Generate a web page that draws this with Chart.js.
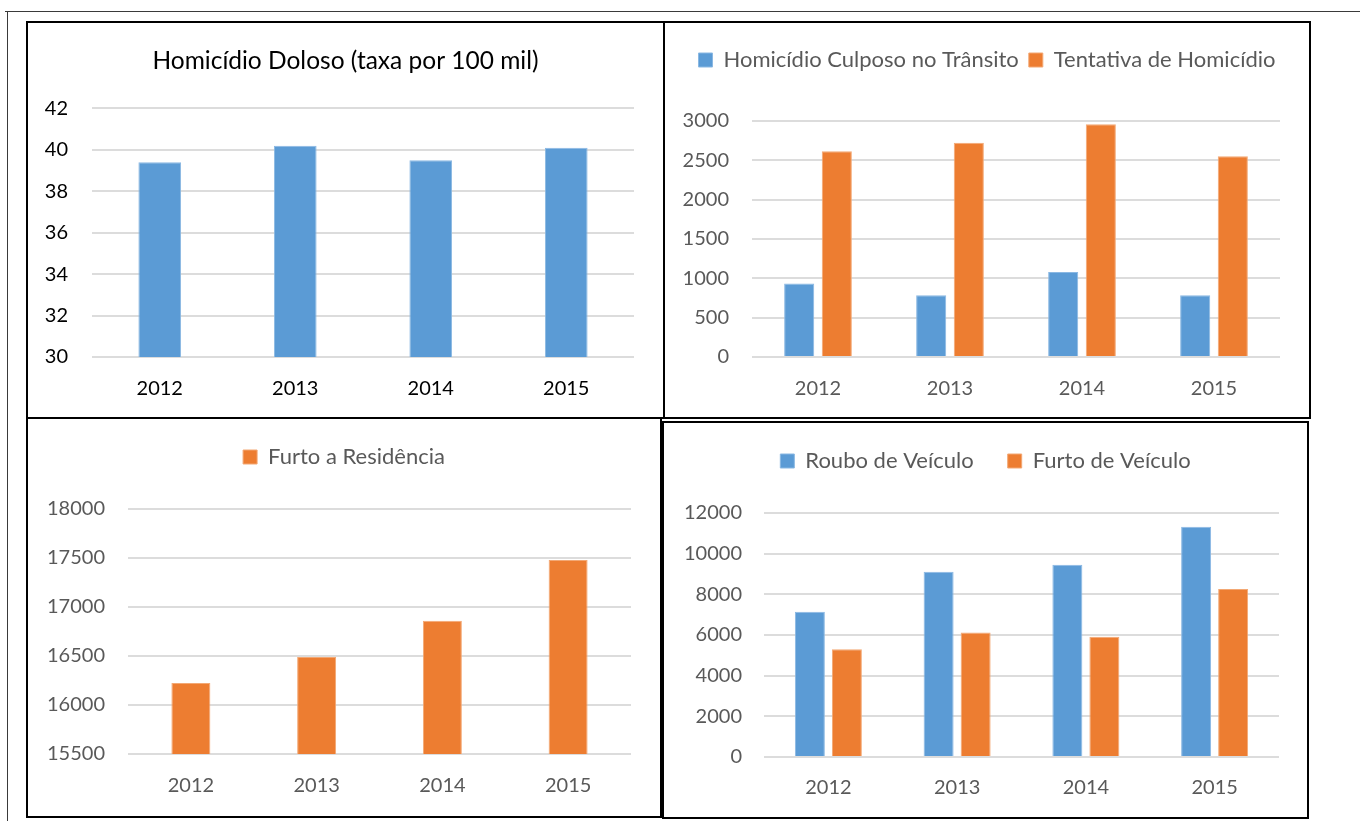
<!DOCTYPE html>
<html>
<head>
<meta charset="utf-8">
<script src="https://cdn.jsdelivr.net/npm/chart.js@4.4.0/dist/chart.umd.min.js"></script>
<style>
  html, body { margin: 0; padding: 0; background: #fff; }
  body { position: relative; width: 1360px; height: 821px; overflow: hidden; }
  .frameTop { position: absolute; left: 5px; top: 11px; width: 1355px; height: 1px; background: #3a3a3a; }
  .frameLeft { position: absolute; left: 7px; top: 11px; width: 1px; height: 810px; background: #3a3a3a; }
  .panel { position: absolute; border: 2px solid #000; box-sizing: border-box; background: #fff; }
  .panel canvas { position: absolute; left: 0; top: 0; }
</style>
</head>
<body>
<div class="frameTop"></div>
<div class="frameLeft"></div>
<div class="panel" style="left:26px;top:21px;width:639px;height:398px"><canvas id="c1" width="635" height="394"></canvas></div>
<div class="panel" style="left:663px;top:21px;width:648px;height:398px"><canvas id="c2" width="644" height="394"></canvas></div>
<div class="panel" style="left:26px;top:417px;width:636px;height:401px"><canvas id="c3" width="632" height="397"></canvas></div>
<div class="panel" style="left:662px;top:421px;width:647px;height:398px"><canvas id="c4" width="643" height="394"></canvas></div>

<script>
const years = ['2012', '2013', '2014', '2015'];

const homicidioDoloso = [39.4, 40.2, 39.5, 40.1];
const homicidioCulposoTransito = [933, 784, 1081, 785];
const tentativaHomicidio = [2614, 2725, 2958, 2551];
const furtoResidencia = [16225, 16491, 16859, 17479];
const rouboVeiculo = [7140, 9110, 9454, 11326];
const furtoVeiculo = [5303, 6125, 5909, 8258];

const ticksDoloso = [30, 32, 34, 36, 38, 40, 42];
const ticksTransito = [0, 500, 1000, 1500, 2000, 2500, 3000];
const ticksResidencia = [15500, 16000, 16500, 17000, 17500, 18000];
const ticksVeiculo = [0, 2000, 4000, 6000, 8000, 10000, 12000];

const BLUE = '#5b9bd5';
const BLUE_EDGE = '#8ab8e3';
const ORANGE = '#ed7d31';
const ORANGE_EDGE = '#f3a874';
const GREY_TEXT = '#595959';

Chart.defaults.font.family = 'Lato, "DejaVu Sans", sans-serif';
Chart.defaults.font.size = 20;

// adds space between the legend and the plot area
function legendGap(gap) {
    return {
        id: 'legendGap',
        beforeInit(chart) {
            if (!chart.legend || chart.legend._gapPatched) return;
            const origFit = chart.legend.fit;
            chart.legend.fit = function () {
                origFit.bind(chart.legend)();
                this.height += gap;
            };
            chart.legend._gapPatched = true;
        }
    };
}

// title / legend centred on the whole panel, not only the padded area
const fullWidthHeader = {
    id: 'fullWidthHeader',
    afterLayout(chart) {
        [chart.titleBlock, chart.legend].forEach(b => {
            if (b) { b.left = 0; b.right = chart.width; b.width = chart.width; }
        });
    }
};

function yScale(tickList, textColor, width, pad) {
    return {
        min: tickList[0],
        max: tickList[tickList.length - 1],
        ticks: { stepSize: tickList[1] - tickList[0], color: textColor, padding: pad, callback: v => String(v) },
        grid: { color: '#dcdcdc', lineWidth: 2, drawTicks: false },
        border: { display: false },
        afterFit: s => { s.width = width; }
    };
}

function xScale(textColor, height, pad) {
    return {
        grid: { display: false },
        border: { display: false },
        ticks: { color: textColor, padding: pad },
        afterFit: s => { s.height = height; }
    };
}

function legendOpts(pad) {
    return {
        display: true,
        position: 'top',
        labels: { boxWidth: 14, boxHeight: 14, color: GREY_TEXT, padding: pad, font: { size: 22 } }
    };
}

// Homicidio Doloso
new Chart(document.getElementById('c1'), {
    type: 'bar',
    data: {
        labels: years,
        datasets: [{ label: 'Homicídio Doloso', data: homicidioDoloso, backgroundColor: BLUE, borderColor: BLUE_EDGE, borderWidth: 1, barPercentage: 0.315, categoryPercentage: 1 }]
    },
    options: {
        responsive: false,
        animation: false,
        layout: { padding: { top: 0, right: 29, bottom: 0, left: 0 } },
        plugins: {
            legend: { display: false },
            tooltip: { enabled: false },
            title: {
                display: true,
                text: 'Homicídio Doloso (taxa por 100 mil)',
                color: '#000',
                font: { size: 24.5, weight: 'normal' },
                padding: { top: 23, bottom: 33 }
            }
        },
        scales: {
            x: xScale('#000', 60, 12),
            y: yScale(ticksDoloso, '#000', 64, 24)
        }
    },
    plugins: [fullWidthHeader]
});

// Homicidio culposo / tentativa
new Chart(document.getElementById('c2'), {
    type: 'bar',
    data: {
        labels: years,
        datasets: [
            { label: 'Homicídio Culposo no Trânsito', data: homicidioCulposoTransito, backgroundColor: BLUE, borderColor: BLUE_EDGE, borderWidth: 1, barPercentage: 0.8, categoryPercentage: 0.57 },
            { label: 'Tentativa de Homicídio', data: tentativaHomicidio, backgroundColor: ORANGE, borderColor: ORANGE_EDGE, borderWidth: 1, barPercentage: 0.8, categoryPercentage: 0.57 }
        ]
    },
    options: {
        responsive: false,
        animation: false,
        layout: { padding: { top: 16, right: 29, bottom: 0, left: 0 } },
        plugins: { legend: legendOpts(10), tooltip: { enabled: false } },
        scales: {
            x: xScale(GREY_TEXT, 60, 12),
            y: yScale(ticksTransito, GREY_TEXT, 87, 23)
        }
    },
    plugins: [legendGap(40), fullWidthHeader]
});

// Furto a residencia
new Chart(document.getElementById('c3'), {
    type: 'bar',
    data: {
        labels: years,
        datasets: [{ label: 'Furto a Residência', data: furtoResidencia, backgroundColor: ORANGE, borderColor: ORANGE_EDGE, borderWidth: 1, barPercentage: 0.31, categoryPercentage: 1 }]
    },
    options: {
        responsive: false,
        animation: false,
        layout: { padding: { top: 17, right: 29, bottom: 0, left: 0 } },
        plugins: { legend: legendOpts(10), tooltip: { enabled: false } },
        scales: {
            x: xScale(GREY_TEXT, 62, 12),
            y: yScale(ticksResidencia, GREY_TEXT, 100, 23)
        }
    },
    plugins: [legendGap(31), fullWidthHeader]
});

// Roubo / furto de veiculo
new Chart(document.getElementById('c4'), {
    type: 'bar',
    data: {
        labels: years,
        datasets: [
            { label: 'Roubo de Veículo', data: rouboVeiculo, backgroundColor: BLUE, borderColor: BLUE_EDGE, borderWidth: 1, barPercentage: 0.81, categoryPercentage: 0.575 },
            { label: 'Furto de Veículo', data: furtoVeiculo, backgroundColor: ORANGE, borderColor: ORANGE_EDGE, borderWidth: 1, barPercentage: 0.81, categoryPercentage: 0.575 }
        ]
    },
    options: {
        responsive: false,
        animation: false,
        layout: { padding: { top: -7, right: 28, bottom: 0, left: 0 } },
        plugins: { legend: legendOpts(34), tooltip: { enabled: false } },
        scales: {
            x: xScale(GREY_TEXT, 60, 11),
            y: yScale(ticksVeiculo, GREY_TEXT, 100, 22)
        }
    },
    plugins: [legendGap(31), fullWidthHeader]
});
</script>
</body>
</html>
